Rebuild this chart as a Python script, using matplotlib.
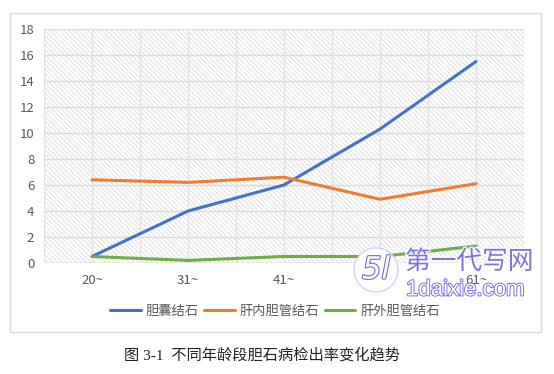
import matplotlib
matplotlib.use('Agg')
import matplotlib.pyplot as plt
import matplotlib.patheffects as pe
from matplotlib.patches import Rectangle, Circle
import numpy as np

plt.rcParams['font.family'] = ['Noto Sans CJK SC', 'DejaVu Sans']
plt.rcParams['hatch.linewidth'] = 0.5

# data
age_groups = ['20~', '31~', '41~', '51~', '61~']
gallbladder = [0.5, 4.0, 6.0, 10.3, 15.5]
intrahepatic = [6.4, 6.2, 6.6, 4.9, 6.1]
extrahepatic = [0.5, 0.2, 0.5, 0.5, 1.3]
series_names = ['胆囊结石', '肝内胆管结石', '肝外胆管结石']
series_colors = ['#4472C4', '#ED7D31', '#70AD47']
caption = '图 3-1  不同年龄段胆石病检出率变化趋势'

W, H = 554, 374
fig = plt.figure(figsize=(W / 100, H / 100), dpi=100)
fig.patch.set_facecolor('white')

# outer chart frame
fig.patches.append(Rectangle((10 / W, 1 - 332 / H), 531 / W, 319 / H,
                             transform=fig.transFigure, fill=False,
                             edgecolor='#d9d9d9', lw=1.0, zorder=0))

ax = fig.add_axes([44 / W, 1 - 263 / H, 480 / W, 234 / H])
x = np.arange(len(age_groups))
ax.set_xlim(-0.5, len(age_groups) - 0.5)
ax.set_ylim(0, 18)

# hatched plot area
ax.add_patch(Rectangle((0, 0), 1, 1, transform=ax.transAxes, facecolor='white',
                       edgecolor='#d4d4d4', lw=0, hatch='\\\\\\\\\\\\\\', zorder=0))

# gridlines: horizontal every 2, vertical at every half category
for yv in range(0, 19, 2):
    ax.axhline(yv, color='#dcdcdc', lw=1.0, zorder=1)
for xv in np.arange(-0.5, len(age_groups), 0.5):
    ax.axvline(xv, color='#e2e2e2', lw=1.0, zorder=1)

for vals, name, col in zip([gallbladder, intrahepatic, extrahepatic], series_names, series_colors):
    ax.plot(x, vals, color=col, lw=2.2, label=name, zorder=3,
            solid_capstyle='round', solid_joinstyle='round')

for s in ax.spines.values():
    s.set_visible(False)
ax.axhline(0, color='#d9d9d9', lw=1.0, zorder=2)

ax.set_yticks(range(0, 19, 2))
ax.set_xticks(x)
ax.set_xticklabels(age_groups)
ax.tick_params(length=0, labelsize=9.5, colors='#595959', pad=8)
ax.tick_params(axis='y', pad=7)

leg = fig.legend(loc='center', bbox_to_anchor=(275 / W, 1 - 311 / H), ncol=3,
                 frameon=False, fontsize=9.5, handlelength=2.3, handletextpad=0.4,
                 columnspacing=0.4)
for t in leg.get_texts():
    t.set_color('#595959')

fig.text(262 / W, 1 - 355 / H, caption, ha='center', va='center', fontsize=11,
         family=['Liberation Serif', 'Noto Sans CJK SC'], color='#222222')

# watermark overlay (sits over the 51~ label, as in the source image)
wm = '#7467d8'
fig.patches.append(Circle((376, H - 270), 22, transform=None, facecolor='white',
                          edgecolor='#d6d1f5', lw=1.0, zorder=10))
fig.text(376 / W, 1 - 270 / H, '5l', ha='center', va='center', fontsize=22,
         color='white', style='italic', zorder=11, family='DejaVu Sans',
         path_effects=[pe.withStroke(linewidth=1.6, foreground=wm)])
fig.text(405 / W, 1 - 262 / H, '第一代写网', ha='left', va='center', fontsize=18.5,
         color=wm, alpha=0.9, zorder=11,
         path_effects=[pe.withStroke(linewidth=2.0, foreground='white')])
fig.text(406 / W, 1 - 290 / H, '1daixie.com', ha='left', va='center', fontsize=16,
         color='white', zorder=11, family='Liberation Sans',
         path_effects=[pe.withStroke(linewidth=1.3, foreground=wm)])

fig.savefig('out.png', dpi=100)
